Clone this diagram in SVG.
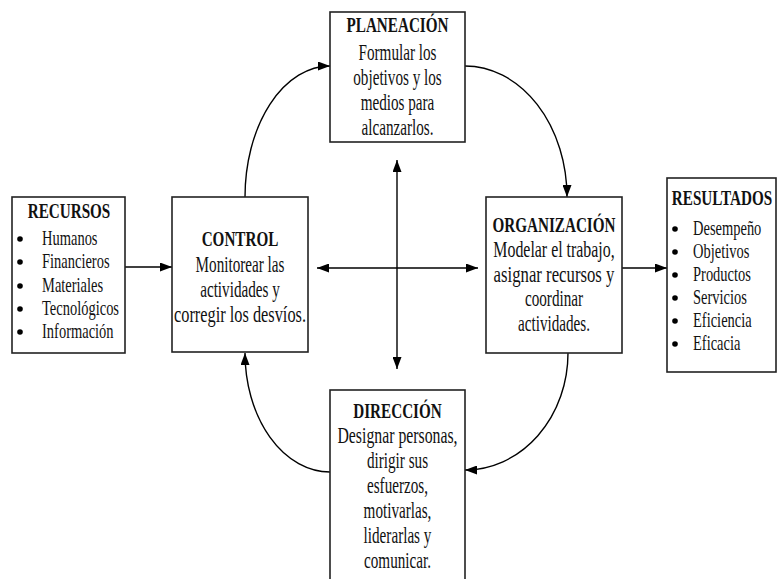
<svg xmlns="http://www.w3.org/2000/svg" width="779" height="579" viewBox="0 0 779 579">
<style>
.box{fill:#fff;stroke:#222;stroke-width:1.6}
.t{font-family:"Liberation Serif","Times New Roman",serif;font-size:23px;fill:#111}
.b{font-weight:bold;font-size:22px}
.l{font-size:21px}
.c{text-anchor:middle}
.ln{fill:none;stroke:#000;stroke-width:1.4}
.dot{fill:#000}
</style>
<defs>
<marker id="ah" viewBox="0 0 12 9" refX="12" refY="4.5" markerWidth="12" markerHeight="9" markerUnits="userSpaceOnUse" orient="auto-start-reverse">
<path d="M0,0 L12,4.5 L0,9 z" fill="#000"/>
</marker>
</defs>
<rect width="779" height="579" fill="#fff"/>
<g id="connectors">
<path class="ln" d="M125,267 L172,267" marker-end="url(#ah)"/>
<path class="ln" d="M622,268 L667,268" marker-end="url(#ah)"/>
<path class="ln" d="M397,160 L397,369" marker-start="url(#ah)" marker-end="url(#ah)"/>
<path class="ln" d="M317,268 L478,268" marker-start="url(#ah)" marker-end="url(#ah)"/>
<path class="ln" d="M245,197 A85,131 0 0 1 330,66" marker-end="url(#ah)"/>
<path class="ln" d="M465,66 A102,131 0 0 1 567,197" marker-end="url(#ah)"/>
<path class="ln" d="M568,353 A103,117 0 0 1 465,470" marker-end="url(#ah)"/>
<path class="ln" d="M330,472 A85,119 0 0 1 245,353" marker-end="url(#ah)"/>
</g>
<g id="planeacion">
<rect class="box" x="330" y="12" width="135" height="130"/>
<g class="t b c" transform="translate(397.5 0) scale(0.69 1)">
<text x="0" y="32">PLANEACIÓN</text>
</g>
<g class="t c" transform="translate(397.5 0) scale(0.66 1)">
<text x="0" y="60">Formular los</text>
<text x="0" y="85">objetivos y los</text>
<text x="0" y="110">medios para</text>
<text x="0" y="135">alcanzarlos.</text>
</g>
</g>
<g id="recursos">
<rect class="box" x="12" y="197" width="113" height="156"/>
<g class="t b c" transform="translate(69 0) scale(0.69 1)">
<text x="0" y="218">RECURSOS</text>
</g>
<g class="dot">
<circle cx="20" cy="239" r="2.8"/>
<circle cx="20" cy="262" r="2.8"/>
<circle cx="20" cy="286" r="2.8"/>
<circle cx="20" cy="309" r="2.8"/>
<circle cx="20" cy="332" r="2.8"/>
</g>
<g class="t l" transform="translate(42 0) scale(0.69 1)">
<text x="0" y="245">Humanos</text>
<text x="0" y="268">Financieros</text>
<text x="0" y="292">Materiales</text>
<text x="0" y="315">Tecnológicos</text>
<text x="0" y="338">Información</text>
</g>
</g>
<g id="control">
<rect class="box" x="172" y="197" width="136" height="155"/>
<g class="t b c" transform="translate(240 0) scale(0.69 1)">
<text x="0" y="246">CONTROL</text>
</g>
<g class="t c" transform="translate(240 0) scale(0.66 1)">
<text x="0" y="272">Monitorear las</text>
<text x="0" y="297">actividades y</text>
<text x="0" y="322" textLength="200" lengthAdjust="spacingAndGlyphs">corregir los desvíos.</text>
</g>
</g>
<g id="organizacion">
<rect class="box" x="486" y="197" width="136" height="156"/>
<g class="t b c" transform="translate(554 0) scale(0.69 1)">
<text x="0" y="232">ORGANIZACIÓN</text>
</g>
<g class="t c" transform="translate(554 0) scale(0.66 1)">
<text x="0" y="257" textLength="184" lengthAdjust="spacingAndGlyphs">Modelar el trabajo,</text>
<text x="0" y="282" textLength="183" lengthAdjust="spacingAndGlyphs">asignar recursos y</text>
<text x="0" y="306">coordinar</text>
<text x="0" y="331">actividades.</text>
</g>
</g>
<g id="resultados">
<rect class="box" x="667" y="178" width="109" height="194"/>
<g class="t b c" transform="translate(722 0) scale(0.69 1)">
<text x="0" y="205">RESULTADOS</text>
</g>
<g class="dot">
<circle cx="675" cy="229" r="2.8"/>
<circle cx="675" cy="252" r="2.8"/>
<circle cx="675" cy="275" r="2.8"/>
<circle cx="675" cy="298" r="2.8"/>
<circle cx="675" cy="321" r="2.8"/>
<circle cx="675" cy="344" r="2.8"/>
</g>
<g class="t l" transform="translate(693 0) scale(0.69 1)">
<text x="0" y="235">Desempeño</text>
<text x="0" y="258">Objetivos</text>
<text x="0" y="281">Productos</text>
<text x="0" y="304">Servicios</text>
<text x="0" y="327">Eficiencia</text>
<text x="0" y="350">Eficacia</text>
</g>
</g>
<g id="direccion">
<rect class="box" x="330" y="390" width="135" height="200"/>
<g class="t b c" transform="translate(397.5 0) scale(0.69 1)">
<text x="0" y="418">DIRECCIÓN</text>
</g>
<g class="t c" transform="translate(397.5 0) scale(0.66 1)">
<text x="0" y="443" textLength="182" lengthAdjust="spacingAndGlyphs">Designar personas,</text>
<text x="0" y="468">dirigir sus</text>
<text x="0" y="493">esfuerzos,</text>
<text x="0" y="518">motivarlas,</text>
<text x="0" y="543">liderarlas y</text>
<text x="0" y="568">comunicar.</text>
</g>
</g>
</svg>
